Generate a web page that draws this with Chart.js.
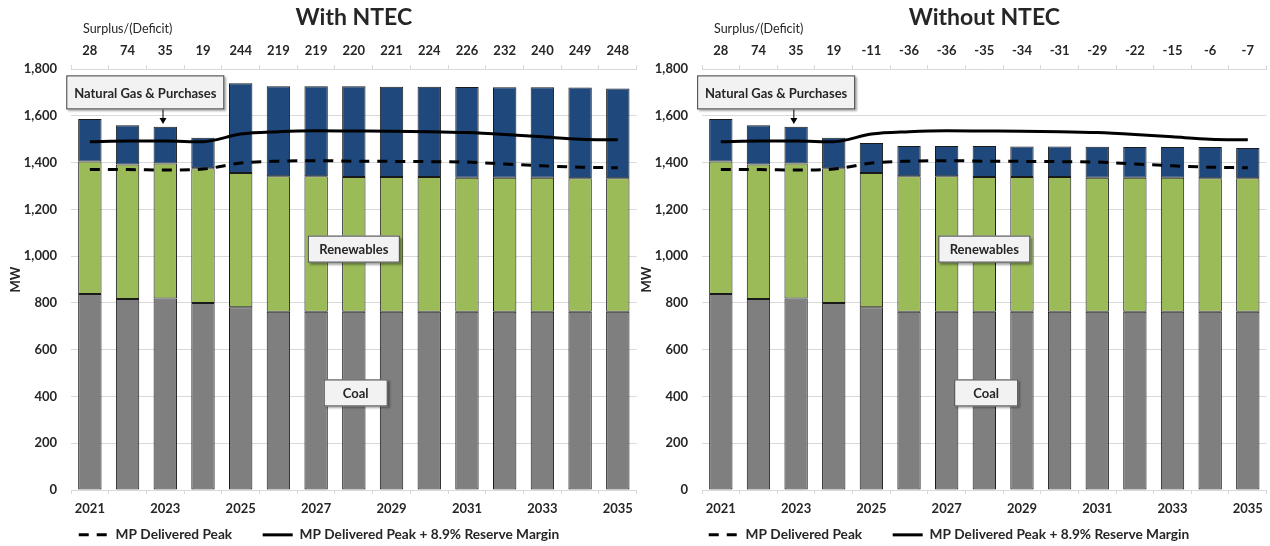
<!DOCTYPE html>
<html>
<head>
<meta charset="utf-8">
<title>MP Capacity With / Without NTEC</title>
<script src="https://cdn.jsdelivr.net/npm/chart.js@4.4.1/dist/chart.umd.min.js"></script>
<style>
  html, body { margin: 0; padding: 0; background: #fff; }
  #wrap { position: relative; width: 1270px; height: 546px; }
  .panel { position: absolute; top: 0; height: 546px; }
  #left { left: 0; width: 640px; }
  #right { left: 631px; width: 639px; }
</style>
</head>
<body>
<div id="wrap">
  <div class="panel" id="left"><canvas id="withChart"></canvas></div>
  <div class="panel" id="right"><canvas id="withoutChart"></canvas></div>
</div>
<script>
// ---- data (MW) ----
const years = ['2021', '2022', '2023', '2024', '2025', '2026', '2027', '2028',
               '2029', '2030', '2031', '2032', '2033', '2034', '2035'];

const surplusWith    = [28, 74, 35, 19, 244, 219, 219, 220, 221, 224, 226, 232, 240, 249, 248];
const surplusWithout = [28, 74, 35, 19, -11, -36, -36, -35, -34, -31, -29, -22, -15, -6, -7];

const coal       = [838, 817, 819, 800, 781, 762, 762, 762, 762, 762, 762, 762, 762, 762, 762];
const renewables = [567, 575, 577, 576, 574, 579, 579, 576, 576, 576, 573, 573, 573, 571, 571];

const gasWith    = [181, 168, 157, 130, 384, 385, 385, 388, 386, 386, 388, 387, 387, 388, 384];
const gasWithout = [181, 168, 157, 130, 129, 130, 130, 133, 131, 131, 133, 132, 132, 133, 129];

const deliveredPeak = [1370, 1370, 1368, 1372, 1398, 1406, 1408, 1406, 1405, 1404, 1402, 1394, 1386, 1380, 1378];
const peakPlusReserve = [1489, 1492, 1492, 1489, 1522, 1532, 1536, 1535, 1534, 1532, 1528, 1520, 1510, 1500, 1497];

const yTicks = { min: 0, max: 1800, step: 200 };

// ---- styles ----
const TEXT = '#262626';
const GRID = '#d9d9d9';
const FONT = 'Lato';
Chart.defaults.font.family = FONT;
Chart.defaults.color = TEXT;

const boldFont = { family: FONT, size: 13, weight: 'bold' };

// callout boxes, placed in data space (category index / MW)
const notes = [
  { text: 'Natural Gas & Purchases', at: 1.47, val: 1700, w: 158, h: 34, arrowAt: 1.94, arrowTo: 1565 },
  { text: 'Renewables', at: 7.0, val: 1030, w: 92, h: 27 },
  { text: 'Coal', at: 7.05, val: 415, w: 64, h: 27 }
];

/**
 * Title, "Surplus/(Deficit)" heading and callout boxes
 */
const panelDecor = {
  id: 'panelDecor',
  afterDraw(chart, args, opts) {
    const ctx = chart.ctx;
    const area = chart.chartArea;
    const xs = chart.scales.x;
    const ys = chart.scales.y;
    ctx.save();

    ctx.fillStyle = TEXT;
    ctx.textAlign = 'center';
    ctx.textBaseline = 'middle';
    ctx.font = 'bold 23px ' + FONT;
    ctx.fillText(opts.title, (area.left + area.right) / 2, 18);

    ctx.textAlign = 'left';
    ctx.font = '12.5px ' + FONT;
    ctx.fillText('Surplus/(Deficit)', area.left + 12, 29);

    notes.forEach(n => {
      const cx = xs.getPixelForValue(n.at);
      const cy = ys.getPixelForValue(n.val);
      const left = cx - n.w / 2;
      const top = cy - n.h / 2;

      if (n.arrowTo !== undefined) {
        const ax = xs.getPixelForValue(n.arrowAt);
        const ay = ys.getPixelForValue(n.arrowTo);
        ctx.strokeStyle = '#000';
        ctx.lineWidth = 1;
        ctx.beginPath();
        ctx.moveTo(ax, top + n.h);
        ctx.lineTo(ax, ay - 5);
        ctx.stroke();
        ctx.fillStyle = '#000';
        ctx.beginPath();
        ctx.moveTo(ax - 3.5, ay - 6);
        ctx.lineTo(ax + 3.5, ay - 6);
        ctx.lineTo(ax, ay);
        ctx.closePath();
        ctx.fill();
      }

      ctx.save();
      ctx.shadowColor = 'rgba(0,0,0,0.35)';
      ctx.shadowOffsetX = 2;
      ctx.shadowOffsetY = 2;
      ctx.shadowBlur = 2;
      ctx.fillStyle = '#f2f2f2';
      ctx.fillRect(left, top, n.w, n.h);
      ctx.restore();
      ctx.strokeStyle = '#3f3f3f';
      ctx.lineWidth = 1;
      ctx.strokeRect(left + 0.5, top + 0.5, n.w - 1, n.h - 1);

      ctx.fillStyle = TEXT;
      ctx.font = 'bold 13px ' + FONT;
      ctx.textAlign = 'center';
      ctx.textBaseline = 'middle';
      ctx.fillText(n.text, cx, cy + 1);
    });
    ctx.restore();
  }
};

/**
 * Legend only shows the two load lines, dashed one first
 */
function lineLegendItems(chart) {
  const items = [];
  chart.data.datasets.forEach((ds, i) => {
    if (ds.type !== 'line') return;
    items.push({
      text: ds.label + (items.length === 0 ? '\u2003\u2003' : ''),
      datasetIndex: i,
      fillStyle: ds.borderColor,
      strokeStyle: ds.borderColor,
      lineWidth: ds.borderWidth,
      lineDash: ds.borderDash || [],
      pointStyle: 'line',
      fontColor: TEXT,
      hidden: false
    });
  });
  return items;
}

function makeChart(canvasId, title, gas, surplus, padRight) {
  const ctx = document.getElementById(canvasId);
  return new Chart(ctx, {
    type: 'bar',
    data: {
      labels: years,
      datasets: [
        { label: 'Coal', data: coal, backgroundColor: '#7f7f7f', borderColor: '#1a1a1a',
          borderWidth: 1, borderSkipped: false, order: 1 },
        { label: 'Renewables', data: renewables, backgroundColor: '#9bbb59', borderColor: '#1a1a1a',
          borderWidth: 1, borderSkipped: false, order: 1 },
        { label: 'Natural Gas & Purchases', data: gas, backgroundColor: '#1f497d', borderColor: '#1a1a1a',
          borderWidth: 1, borderSkipped: false, order: 1 },
        { type: 'line', label: 'MP Delivered Peak', data: deliveredPeak, stack: 'peak',
          borderColor: '#000', backgroundColor: '#000', borderWidth: 3, borderDash: [10, 8],
          pointRadius: 0, cubicInterpolationMode: 'monotone', order: 0 },
        { type: 'line', label: 'MP Delivered Peak + 8.9% Reserve Margin', data: peakPlusReserve, stack: 'reserve',
          borderColor: '#000', backgroundColor: '#000', borderWidth: 3,
          pointRadius: 0, cubicInterpolationMode: 'monotone', order: 0 }
      ]
    },
    options: {
      responsive: true,
      maintainAspectRatio: false,
      animation: false,
      datasets: { bar: { barPercentage: 0.62, categoryPercentage: 1.0 } },
      layout: { padding: { top: 39, right: padRight, bottom: 0, left: 0 } },
      plugins: {
        legend: {
          position: 'bottom',
          maxHeight: 28,
          labels: {
            usePointStyle: true,
            pointStyle: 'line',
            pointStyleWidth: 30,
            padding: 10,
            color: TEXT,
            font: { family: FONT, size: 13.7, weight: 'bold' },
            generateLabels: lineLegendItems
          }
        },
        tooltip: { enabled: false },
        panelDecor: { title: title }
      },
      scales: {
        x: {
          stacked: true,
          offset: true,
          grid: { offset: true, drawOnChartArea: false, tickLength: 4, color: GRID },
          border: { color: GRID },
          ticks: {
            autoSkip: false, maxRotation: 0, padding: 7, color: TEXT, font: boldFont,
            callback: function(v, i) { return i % 2 === 0 ? this.getLabelForValue(v) : ''; }
          },
          afterFit(s) { s.height = 28; }
        },
        x2: {
          type: 'category',
          position: 'top',
          labels: surplus.map(String),
          offset: true,
          grid: { offset: true, drawOnChartArea: false, tickLength: 4, color: GRID },
          border: { color: GRID },
          ticks: { autoSkip: false, maxRotation: 0, padding: 6, color: TEXT, font: boldFont },
          afterFit(s) { s.height = 30; }
        },
        y: {
          stacked: true,
          min: yTicks.min,
          max: yTicks.max,
          grid: { color: GRID, drawTicks: false },
          border: { display: false },
          ticks: { stepSize: yTicks.step, padding: 14, color: TEXT, font: boldFont },
          title: { display: true, text: 'MW', color: TEXT, font: boldFont, padding: { top: 8, bottom: 0 } },
          afterFit(s) { s.width = 71; }
        }
      }
    },
    plugins: [panelDecor]
  });
}

makeChart('withChart', 'With NTEC', gasWith, surplusWith, 2);
makeChart('withoutChart', 'Without NTEC', gasWithout, surplusWithout, 3);
</script>
</body>
</html>
